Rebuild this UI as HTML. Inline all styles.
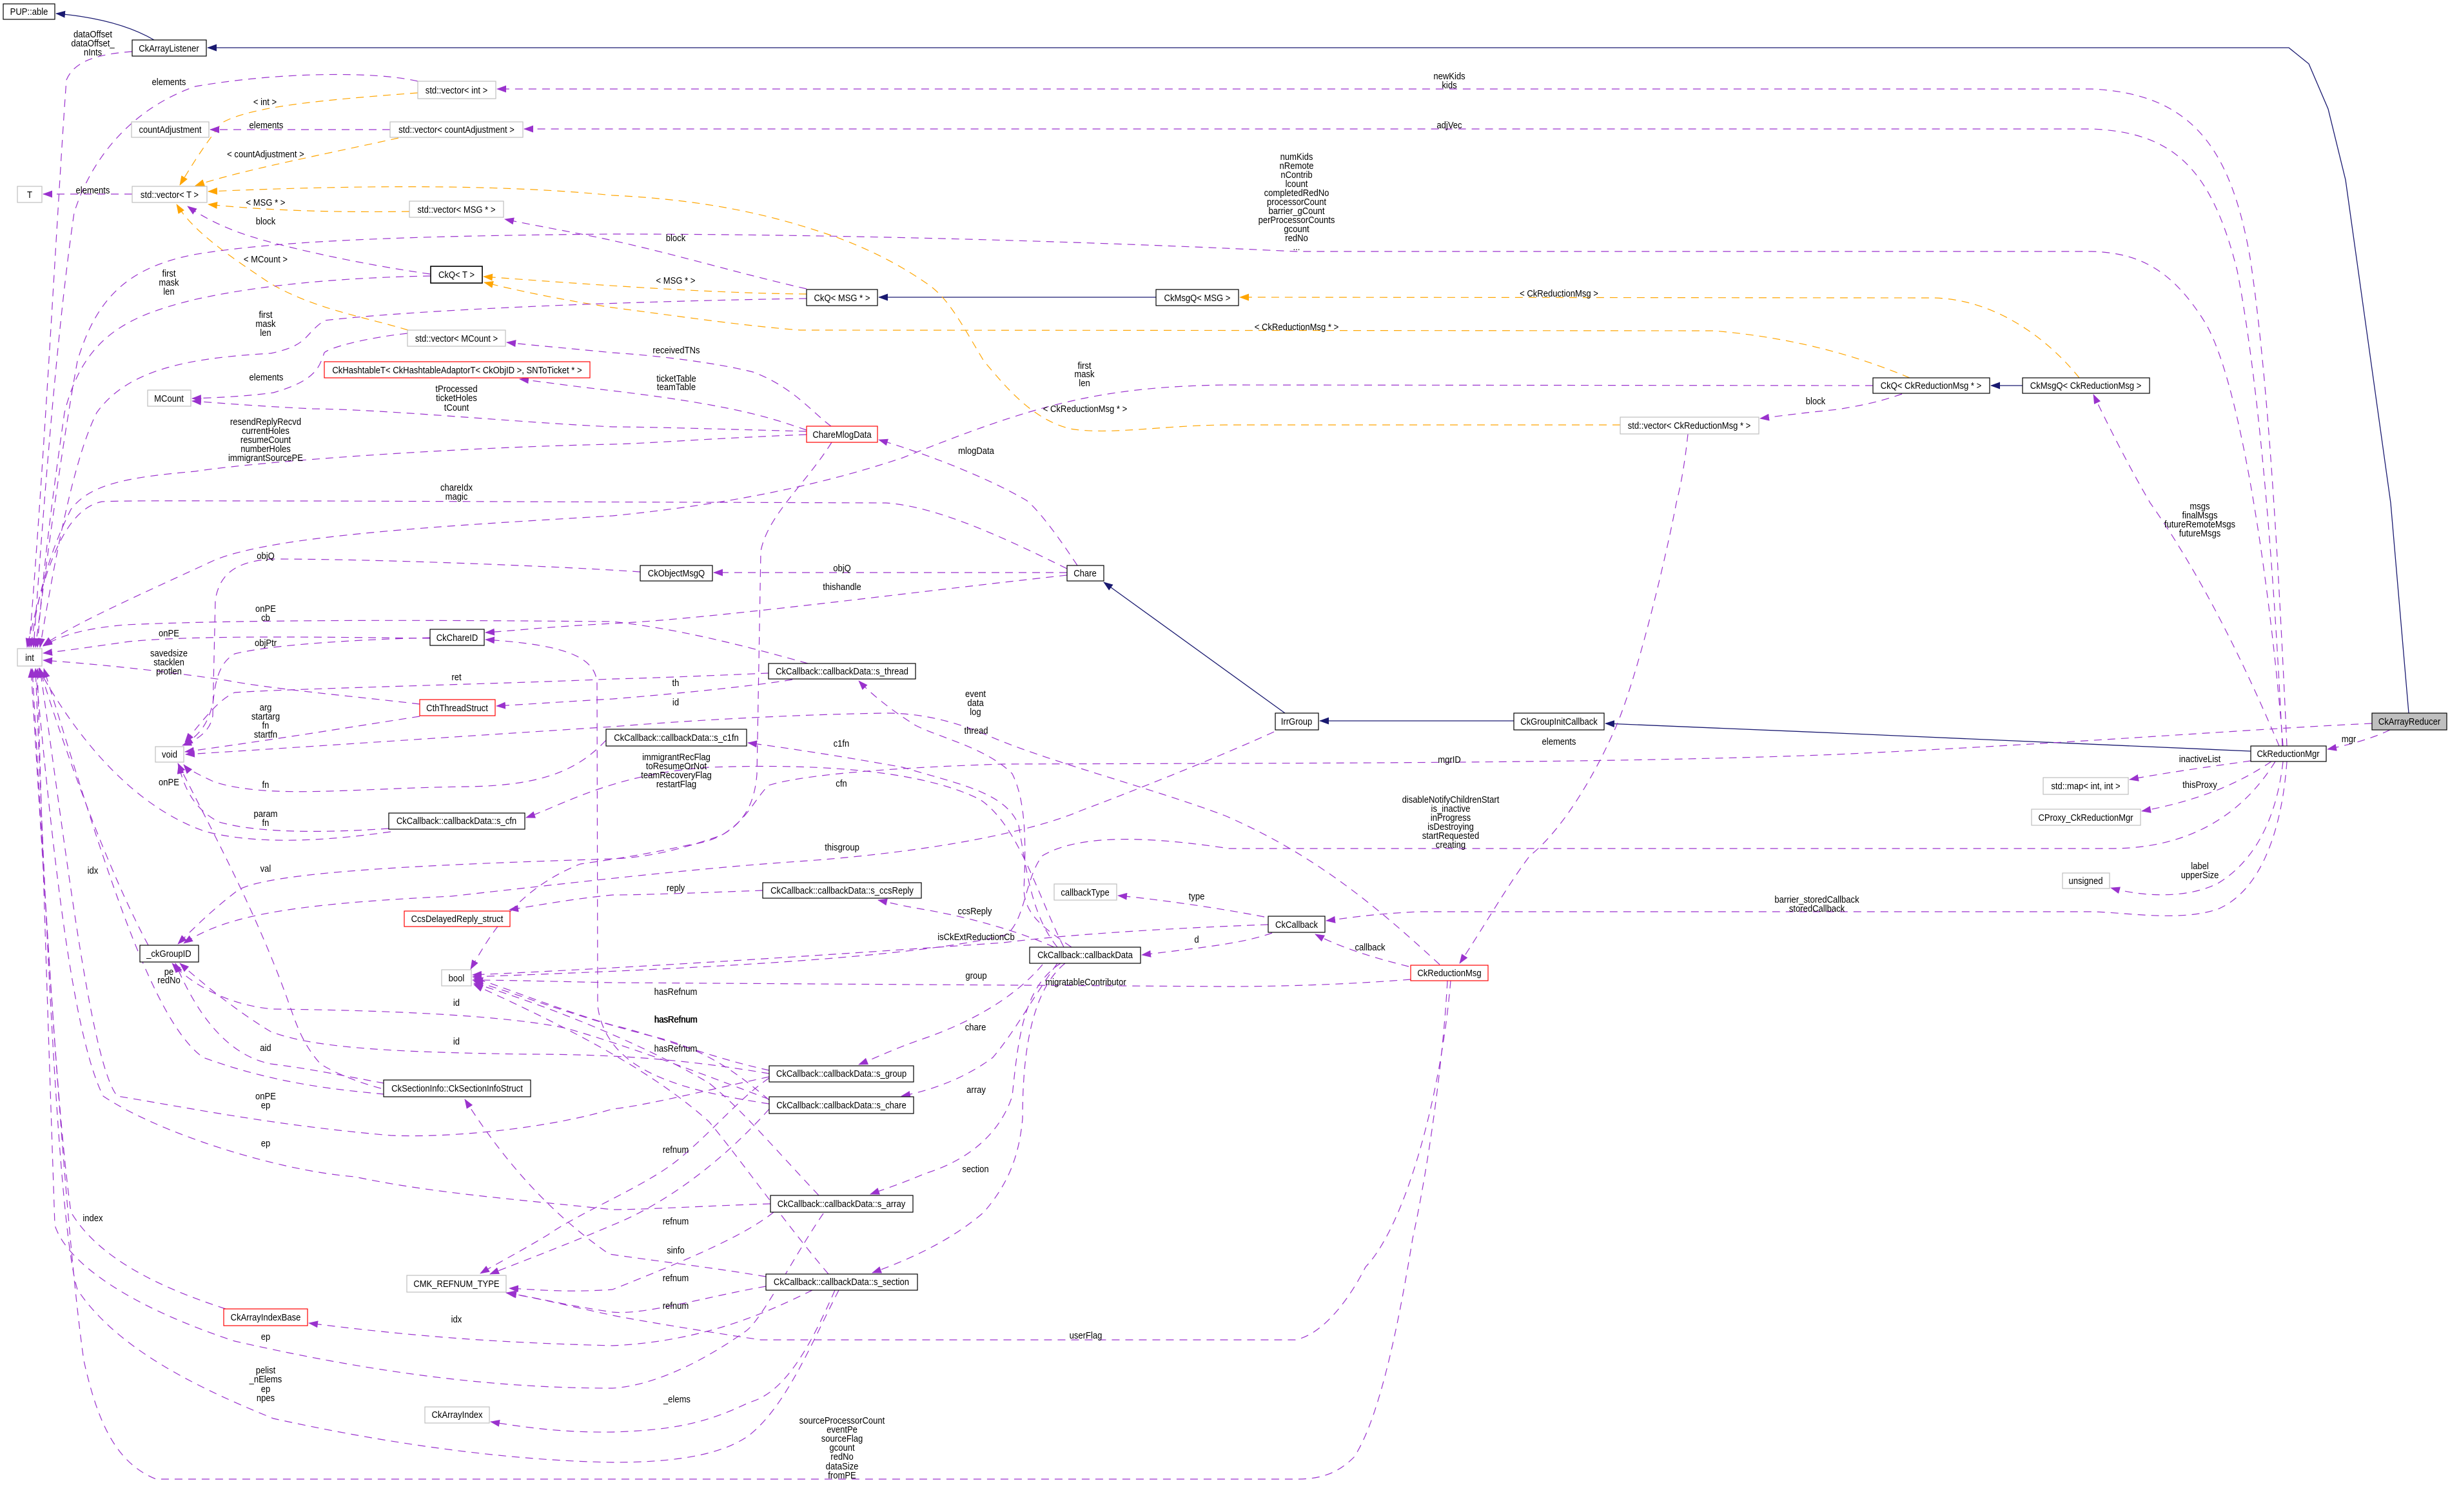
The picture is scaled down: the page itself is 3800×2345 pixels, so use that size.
<!DOCTYPE html>
<html><head><meta charset="utf-8"><style>
html,body{margin:0;padding:0;background:#fff}
svg{display:block}
.t{font-family:"Liberation Sans",Arial,sans-serif;font-size:14.5px;fill:#000;text-anchor:middle;transform-box:fill-box;transform-origin:center;transform:scaleX(.9)}
.p{fill:none;stroke:#9a32cd;stroke-width:1.2;stroke-dasharray:12 9;marker-end:url(#ap)}
.o{fill:none;stroke:#ffa500;stroke-width:1.2;stroke-dasharray:12 9;marker-end:url(#ao)}
.n{fill:none;stroke:#191970;stroke-width:1.3;marker-end:url(#an)}
.bk{fill:#fff;stroke:#000;stroke-width:1.2}
.gr{fill:#fff;stroke:#bfbfbf;stroke-width:1.2}
.rd{fill:#fff;stroke:#ff0000;stroke-width:1.2}
</style></head><body>
<svg width="3800" height="2345" viewBox="0 0 3800 2345" xmlns="http://www.w3.org/2000/svg">
<defs>
<marker id="ap" markerUnits="userSpaceOnUse" markerWidth="15" markerHeight="11" viewBox="0 0 15 11" refX="14" refY="5.5" orient="auto"><path d="M0,0 L15,5.5 L0,11 z" fill="#9a32cd"/></marker>
<marker id="ao" markerUnits="userSpaceOnUse" markerWidth="15" markerHeight="11" viewBox="0 0 15 11" refX="14" refY="5.5" orient="auto"><path d="M0,0 L15,5.5 L0,11 z" fill="#ffa500"/></marker>
<marker id="an" markerUnits="userSpaceOnUse" markerWidth="15" markerHeight="11" viewBox="0 0 15 11" refX="14" refY="5.5" orient="auto"><path d="M0,0 L15,5.5 L0,11 z" fill="#191970"/></marker>
</defs>
<rect width="3800" height="2345" fill="#fff"/>

<!-- inheritance -->
<path class="n" d="M239,62 C215,48 170,28 87,21"/>
<path class="n" d="M3736,1106 L3708,780 L3638,279 L3611,169 L3581,99 L3550,74 L322,74"/>
<path class="n" d="M3491,1165 L2850,1137 L2490,1122"/>
<path class="n" d="M2348,1118 L2047,1118"/>
<path class="n" d="M1993,1106 L1712,903"/>
<path class="n" d="M1793,461 L1363,461"/>
<path class="n" d="M3137,598 L3088,598"/>

<!-- template (orange) -->
<path class="o" d="M648,144 C500,155 390,165 345,190 C320,220 295,260 279,287"/>
<path class="o" d="M618,214 C500,240 370,265 303,288"/>
<path class="o" d="M635,328 C500,330 400,325 323,317"/>
<path class="o" d="M633,512 C560,490 490,480 420,440 C360,400 300,360 274,317"/>
<path class="o" d="M1251,456 C1100,455 900,440 750,429"/>
<path class="o" d="M2962,586 C2900,560 2800,525 2658,513 L1241,512 C1150,505 1050,490 950,477 C870,465 800,450 751,438"/>
<path class="o" d="M3225,586 C3180,530 3100,465 3000,462 L1923,461"/>
<path class="o" d="M2513,659 L1900,659 C1800,660 1720,675 1660,665 C1600,650 1560,600 1526,560 C1490,500 1470,460 1435,438 C1380,400 1320,375 1280,362 C1200,335 1100,310 950,303 C800,288 600,285 323,297"/>

<!-- members (purple) -->
<path class="p" d="M205,80 C150,84 115,95 103,124 C90,300 70,700 45,1004"/>
<path class="p" d="M648,126 C580,110 430,112 303,134 C200,170 140,250 115,330 C90,500 70,750 52,1004"/>
<path class="p" d="M605,201 L326,201"/>
<path class="p" d="M205,301 L67,301"/>
<path class="p" d="M667,425 C560,410 420,380 364,358 C330,345 305,330 291,320"/>
<path class="p" d="M1251,448 C1150,425 1050,395 950,373 C900,362 830,350 783,340"/>
<path class="p" d="M668,428 C560,430 420,438 300,465 C200,490 130,520 100,640 C80,780 65,900 58,1004"/>
<path class="p" d="M1251,463 C1100,465 700,475 503,497 C470,520 480,535 420,548 C300,555 200,570 150,640 C110,720 80,900 62,1004"/>
<path class="p" d="M2905,598 L1900,597 C1700,600 1600,630 1400,710 C1250,760 1100,785 950,800 C700,815 420,830 330,870 C200,930 110,970 67,1001"/>
<path class="p" d="M1251,674 C1100,680 1000,688 950,689 C700,694 400,716 303,731 C200,740 140,750 110,790 C90,830 60,900 48,1004"/>
<path class="p" d="M1655,882 C1550,830 1450,785 1374,780 L500,777 C300,777 200,776 158,778 C100,790 70,880 42,1004"/>
<path class="p" d="M3541,1157 C3525,950 3480,600 3420,500 C3370,420 3320,392 3244,390 L2009,390 C1700,375 1300,363 950,363 C600,366 420,375 300,395 C200,415 150,460 120,560 C95,700 75,850 55,1004"/>
<path class="p" d="M3547,1157 C3535,900 3520,600 3490,400 C3460,230 3400,145 3244,138 L771,138"/>
<path class="p" d="M3540,1157 C3528,900 3505,600 3470,420 C3430,260 3370,205 3244,200 L813,200"/>
<path class="p" d="M3535,1157 C3490,1050 3420,900 3335,780 C3300,720 3270,660 3247,612"/>
<path class="p" d="M3707,1132 C3680,1145 3645,1155 3610,1162"/>
<path class="p" d="M3491,1180 C3420,1190 3350,1200 3303,1209"/>
<path class="p" d="M3523,1181 C3480,1210 3420,1240 3322,1258"/>
<path class="p" d="M3541,1181 C3530,1280 3490,1340 3440,1370 C3390,1395 3320,1390 3274,1377"/>
<path class="p" d="M3547,1181 C3540,1280 3510,1380 3440,1410 C3380,1430 3300,1415 3244,1414 L2200,1414 C2120,1418 2090,1424 2057,1428"/>
<path class="p" d="M3529,1181 C3480,1260 3400,1316 3274,1316 L1906,1316 C1800,1300 1680,1290 1617,1327 C1590,1360 1590,1430 1560,1450 C1400,1490 1000,1505 733,1515"/>
<path class="p" d="M3679,1122 C3500,1130 3214,1153 2850,1170 C2600,1180 2264,1183 1900,1184 L1556,1185 C1400,1190 1250,1200 1192,1218 C1170,1240 1160,1270 1120,1295 C1050,1320 1000,1330 950,1332 C700,1340 424,1350 370,1380 C330,1410 300,1440 276,1464"/>
<path class="p" d="M1976,1135 C1900,1170 1750,1230 1677,1257 C1600,1290 1450,1320 1253,1335 C1100,1345 950,1362 700,1390 C450,1402 350,1420 285,1463"/>
<path class="p" d="M2618,673 C2612,730 2605,760 2600,780 C2585,860 2540,1050 2506,1128 C2470,1210 2420,1290 2373,1327 C2340,1370 2300,1440 2264,1494"/>
<path class="p" d="M2950,611 C2910,625 2880,630 2850,635 C2800,640 2760,645 2730,649"/>
<path class="p" d="M1671,877 C1640,830 1610,790 1592,776 C1530,740 1440,705 1363,682"/>
<path class="p" d="M1655,888 L1107,888"/>
<path class="p" d="M1655,892 C1400,920 1100,960 950,967 C850,972 800,978 753,981"/>
<path class="p" d="M1289,661 C1260,640 1230,600 1168,577 C1100,560 1000,550 950,547 C880,540 820,535 786,531"/>
<path class="p" d="M1251,667 C1200,650 1150,630 950,606 C880,598 840,592 806,588"/>
<path class="p" d="M1251,669 C1100,665 1000,662 950,662 C800,655 600,635 485,634 C400,630 340,625 298,622"/>
<path class="p" d="M632,517 C560,525 510,540 503,547 C495,570 490,590 424,609 C380,615 330,617 298,618"/>
<path class="p" d="M667,990 C500,988 300,985 200,995 C130,1005 95,1010 67,1013"/>
<path class="p" d="M1253,1029 C1150,1000 1050,975 950,964 C700,962 400,960 194,969 C130,975 95,985 67,1002"/>
<path class="p" d="M651,1092 C550,1080 424,1069 350,1055 C250,1040 150,1030 67,1024"/>
<path class="p" d="M1192,1044 C1100,1048 1000,1052 950,1053 C800,1060 450,1068 364,1074 C340,1085 320,1110 287,1151"/>
<path class="p" d="M1229,1054 C1150,1067 1000,1080 950,1084 C880,1088 820,1092 770,1095"/>
<path class="p" d="M993,887 C900,880 600,867 424,867 C360,870 340,895 334,930 L330,1110 C326,1135 305,1148 283,1156"/>
<path class="p" d="M667,989 C550,992 420,1000 364,1014 C345,1025 335,1045 331,1085 C325,1120 310,1140 285,1155"/>
<path class="p" d="M651,1111 C560,1125 440,1145 287,1166"/>
<path class="p" d="M2233,1496 C2150,1420 2050,1330 1900,1265 C1780,1220 1620,1180 1526,1138 C1470,1115 1420,1106 1374,1106 C1250,1108 1100,1115 950,1127 C700,1143 420,1162 288,1170"/>
<path class="p" d="M940,1148 C900,1190 850,1218 727,1220 C550,1222 420,1240 333,1213 C305,1200 290,1192 285,1186"/>
<path class="p" d="M603,1285 C500,1292 400,1292 340,1275 C300,1255 285,1220 277,1186"/>
<path class="p" d="M606,1290 C500,1305 400,1310 320,1290 C200,1250 110,1130 60,1037"/>
<path class="p" d="M1650,1469 C1610,1390 1580,1280 1520,1240 C1440,1200 1300,1183 1100,1190 C950,1200 870,1250 816,1268"/>
<path class="p" d="M1640,1469 C1600,1420 1592,1350 1580,1280 C1560,1230 1495,1218 1400,1190 C1300,1172 1220,1160 1160,1152"/>
<path class="p" d="M1662,1469 C1620,1440 1590,1420 1588,1380 C1592,1300 1590,1240 1570,1200 C1530,1160 1460,1145 1420,1125 C1380,1100 1350,1075 1332,1056"/>
<path class="p" d="M1635,1469 C1570,1440 1490,1420 1430,1410 C1400,1405 1380,1400 1362,1396"/>
<path class="p" d="M1183,1381 C1100,1384 1000,1388 950,1388 C880,1395 830,1405 790,1411"/>
<path class="p" d="M1961,1422 C1900,1410 1800,1395 1734,1389"/>
<path class="p" d="M1973,1447 C1930,1462 1880,1468 1771,1481"/>
<path class="p" d="M1967,1434 C1800,1440 1650,1450 1556,1462 C1300,1480 1000,1500 733,1512"/>
<path class="p" d="M2185,1499 C2150,1490 2090,1475 2040,1449"/>
<path class="p" d="M2188,1519 C2100,1526 2000,1530 1900,1530 L950,1524 C850,1522 780,1520 733,1520"/>
<path class="p" d="M1617,1496 C1580,1540 1520,1580 1435,1610 C1390,1625 1360,1640 1332,1651"/>
<path class="p" d="M1640,1494 C1600,1550 1574,1600 1540,1640 C1500,1670 1450,1690 1398,1700"/>
<path class="p" d="M1645,1494 C1590,1530 1580,1600 1570,1700 C1550,1760 1500,1800 1435,1820 C1400,1835 1370,1845 1350,1852"/>
<path class="p" d="M1652,1494 C1595,1540 1586,1650 1586,1735 C1580,1800 1560,1840 1526,1880 C1480,1920 1420,1950 1353,1974"/>
<path class="p" d="M1290,686 C1250,750 1190,800 1180,855 L1174,1200 C1170,1260 1140,1300 1071,1310 C1000,1325 970,1330 900,1340 C800,1380 760,1450 730,1503"/>
<path class="p" d="M1193,1712 C1050,1690 940,1660 927,1560 L926,1060 C924,1020 880,1000 753,992"/>
<path class="p" d="M1193,1665 C1100,1650 1000,1635 818,1635 C606,1632 485,1625 420,1600 C370,1570 320,1530 279,1494"/>
<path class="p" d="M1193,1705 C1050,1650 950,1615 879,1595 C788,1575 606,1567 424,1565 C360,1560 300,1530 267,1494"/>
<path class="p" d="M596,1680 C540,1670 485,1658 420,1650 C345,1635 300,1560 272,1494"/>
<path class="p" d="M591,1688 C560,1680 520,1665 497,1650 C470,1620 460,1590 448,1556 C400,1420 330,1290 276,1184"/>
<path class="p" d="M596,1697 C520,1690 424,1680 315,1640 C230,1580 150,1300 68,1037"/>
<path class="p" d="M1188,1980 C1100,1965 1011,1955 945,1945 C880,1900 800,1830 721,1705"/>
<path class="p" d="M1193,1670 C1100,1690 1000,1715 950,1720 C850,1750 700,1765 606,1761 C424,1745 303,1720 182,1700 C140,1650 100,1300 62,1037"/>
<path class="p" d="M1195,1867 C1100,1870 1000,1876 950,1876 C800,1860 667,1850 550,1825 C424,1815 242,1755 160,1700 C110,1600 80,1300 55,1037"/>
<path class="p" d="M350,2030 C242,1995 152,1950 110,1880 C85,1700 65,1300 50,1037"/>
<path class="p" d="M1260,2001 C1200,2030 1100,2080 950,2087 C800,2083 667,2076 479,2052"/>
<path class="p" d="M1277,1882 C1230,1950 1180,2050 1156,2065 C1071,2125 1000,2150 950,2153 C788,2153 606,2135 364,2080 C182,2020 100,1950 85,1900 C75,1600 65,1300 58,1037"/>
<path class="p" d="M1301,2001 C1260,2080 1220,2180 1162,2226 C1120,2256 1050,2268 950,2268 C788,2265 606,2240 424,2200 C300,2150 180,2090 120,2000 C90,1900 70,1400 55,1037"/>
<path class="p" d="M1295,2001 C1260,2080 1220,2160 1162,2175 C1100,2205 1050,2218 950,2221 C880,2222 820,2215 761,2205"/>
<path class="p" d="M2245,1521 C2238,1650 2215,1811 2191,1921 C2170,2050 2140,2200 2100,2260 C2070,2290 2040,2294 2009,2294 L242,2294 C182,2270 152,2210 130,2110 C100,1900 70,1400 48,1037"/>
<path class="p" d="M2250,1521 C2235,1700 2180,1900 2118,1965 C2090,2020 2050,2070 2009,2078 L1180,2078 C1132,2071 1000,2050 950,2040 C880,2025 830,2012 787,2006"/>
<path class="p" d="M1193,1672 C1150,1700 1100,1760 1050,1800 C1000,1840 900,1880 850,1915 C800,1945 770,1960 745,1975"/>
<path class="p" d="M1193,1720 C1140,1780 1050,1860 950,1900 C880,1930 800,1960 760,1976"/>
<path class="p" d="M1200,1880 C1150,1920 1050,1960 950,2000 C880,2005 830,2000 790,1998"/>
<path class="p" d="M1188,1995 C1100,2010 1000,2040 950,2035 C880,2025 830,2012 785,2005"/>
<path class="p" d="M1193,1660 C1100,1640 1000,1600 950,1590 C850,1560 780,1530 735,1517"/>
<path class="p" d="M1193,1706 C1150,1670 1100,1630 1023,1610 C900,1580 800,1540 735,1522"/>
<path class="p" d="M1270,1854 C1200,1780 1150,1720 1100,1680 C1000,1620 850,1560 735,1525"/>
<path class="p" d="M1285,1976 C1220,1900 1150,1800 1100,1740 C1000,1650 850,1580 735,1527"/>
<path class="p" d="M230,1466 C182,1377 121,1228 61,1036"/>

<!-- boxes -->
<rect class="bk" x="5" y="6" width="80" height="24"/>
<rect class="bk" x="205" y="62" width="115" height="25"/>
<rect class="gr" x="648" y="126" width="121" height="27"/>
<rect class="gr" x="204" y="189" width="120" height="24"/>
<rect class="gr" x="605" y="189" width="206" height="24"/>
<rect class="gr" x="27" y="289" width="38" height="25"/>
<rect class="gr" x="205" y="289" width="116" height="25"/>
<rect class="gr" x="635" y="312" width="146" height="25"/>
<rect class="bk" x="668" y="413" width="80" height="26" style="stroke-width:1.6"/>
<rect class="bk" x="1251" y="449" width="110" height="25"/>
<rect class="bk" x="1793" y="449" width="128" height="25"/>
<rect class="gr" x="632" y="512" width="152" height="25"/>
<rect class="rd" x="503" y="561" width="412" height="25"/>
<rect class="gr" x="229" y="605" width="67" height="25"/>
<rect class="rd" x="1251" y="661" width="110" height="25"/>
<rect class="bk" x="2905" y="586" width="181" height="24"/>
<rect class="bk" x="3137" y="586" width="197" height="24"/>
<rect class="gr" x="2513" y="647" width="215" height="26"/>
<rect class="bk" x="993" y="877" width="112" height="24"/>
<rect class="bk" x="1655" y="877" width="57" height="24"/>
<rect class="gr" x="27" y="1006" width="38" height="27"/>
<rect class="bk" x="667" y="976" width="84" height="25"/>
<rect class="bk" x="1192" y="1029" width="228" height="24"/>
<rect class="rd" x="651" y="1085" width="117" height="25"/>
<rect class="bk" x="940" y="1131" width="218" height="26"/>
<rect class="gr" x="241" y="1158" width="44" height="24"/>
<rect class="bk" x="1978" y="1106" width="67" height="26"/>
<rect class="bk" x="2348" y="1106" width="140" height="26"/>
<rect x="3679" y="1106" width="116" height="26" fill="#bfbfbf" stroke="#000" stroke-width="1.2"/>
<rect class="bk" x="3491" y="1157" width="117" height="24"/>
<rect class="gr" x="3169" y="1206" width="132" height="26"/>
<rect class="gr" x="3151" y="1255" width="169" height="25"/>
<rect class="bk" x="603" y="1261" width="211" height="25"/>
<rect class="gr" x="3199" y="1354" width="73" height="24"/>
<rect class="bk" x="1183" y="1369" width="246" height="24"/>
<rect class="gr" x="1635" y="1371" width="97" height="25"/>
<rect class="rd" x="627" y="1413" width="164" height="24"/>
<rect class="bk" x="1967" y="1421" width="88" height="25"/>
<rect class="bk" x="217" y="1466" width="91" height="26"/>
<rect class="bk" x="1597" y="1469" width="172" height="25"/>
<rect class="rd" x="2188" y="1497" width="120" height="24"/>
<rect class="gr" x="685" y="1504" width="46" height="25"/>
<rect class="bk" x="1193" y="1653" width="224" height="25"/>
<rect class="bk" x="595" y="1675" width="228" height="26"/>
<rect class="bk" x="1193" y="1701" width="224" height="26"/>
<rect class="bk" x="1195" y="1854" width="221" height="26"/>
<rect class="gr" x="631" y="1978" width="154" height="26"/>
<rect class="bk" x="1188" y="1976" width="235" height="25"/>
<rect class="rd" x="347" y="2030" width="130" height="26"/>
<rect class="gr" x="659" y="2182" width="100" height="25"/>

<!-- box labels -->
<text class="t" x="45" y="23">PUP::able</text>
<text class="t" x="262" y="80">CkArrayListener</text>
<text class="t" x="708" y="145">std::vector&lt; int &gt;</text>
<text class="t" x="264" y="206">countAdjustment</text>
<text class="t" x="708" y="206">std::vector&lt; countAdjustment &gt;</text>
<text class="t" x="46" y="307">T</text>
<text class="t" x="263" y="307">std::vector&lt; T &gt;</text>
<text class="t" x="708" y="330">std::vector&lt; MSG * &gt;</text>
<text class="t" x="708" y="431">CkQ&lt; T &gt;</text>
<text class="t" x="1306" y="467">CkQ&lt; MSG * &gt;</text>
<text class="t" x="1857" y="467">CkMsgQ&lt; MSG &gt;</text>
<text class="t" x="708" y="530">std::vector&lt; MCount &gt;</text>
<text class="t" x="709" y="579">CkHashtableT&lt; CkHashtableAdaptorT&lt; CkObjID &gt;, SNToTicket * &gt;</text>
<text class="t" x="262" y="623">MCount</text>
<text class="t" x="1306" y="679">ChareMlogData</text>
<text class="t" x="2995" y="603">CkQ&lt; CkReductionMsg * &gt;</text>
<text class="t" x="3235" y="603">CkMsgQ&lt; CkReductionMsg &gt;</text>
<text class="t" x="2620" y="665">std::vector&lt; CkReductionMsg * &gt;</text>
<text class="t" x="1049" y="894">CkObjectMsgQ</text>
<text class="t" x="1683" y="894">Chare</text>
<text class="t" x="46" y="1025">int</text>
<text class="t" x="709" y="994">CkChareID</text>
<text class="t" x="1306" y="1046">CkCallback::callbackData::s_thread</text>
<text class="t" x="709" y="1103">CthThreadStruct</text>
<text class="t" x="1049" y="1149">CkCallback::callbackData::s_c1fn</text>
<text class="t" x="263" y="1175">void</text>
<text class="t" x="2011" y="1124">IrrGroup</text>
<text class="t" x="2418" y="1124">CkGroupInitCallback</text>
<text class="t" x="3737" y="1124">CkArrayReducer</text>
<text class="t" x="3549" y="1174">CkReductionMgr</text>
<text class="t" x="3235" y="1224">std::map&lt; int, int &gt;</text>
<text class="t" x="3235" y="1273">CProxy_CkReductionMgr</text>
<text class="t" x="708" y="1278">CkCallback::callbackData::s_cfn</text>
<text class="t" x="3235" y="1371">unsigned</text>
<text class="t" x="1306" y="1386">CkCallback::callbackData::s_ccsReply</text>
<text class="t" x="1683" y="1389">callbackType</text>
<text class="t" x="709" y="1430">CcsDelayedReply_struct</text>
<text class="t" x="2011" y="1439">CkCallback</text>
<text class="t" x="262" y="1484">_ckGroupID</text>
<text class="t" x="1683" y="1486">CkCallback::callbackData</text>
<text class="t" x="2248" y="1514">CkReductionMsg</text>
<text class="t" x="708" y="1522">bool</text>
<text class="t" x="1305" y="1670">CkCallback::callbackData::s_group</text>
<text class="t" x="709" y="1693">CkSectionInfo::CkSectionInfoStruct</text>
<text class="t" x="1305" y="1719">CkCallback::callbackData::s_chare</text>
<text class="t" x="1305" y="1872">CkCallback::callbackData::s_array</text>
<text class="t" x="708" y="1996">CMK_REFNUM_TYPE</text>
<text class="t" x="1305" y="1993">CkCallback::callbackData::s_section</text>
<text class="t" x="412" y="2048">CkArrayIndexBase</text>
<text class="t" x="709" y="2199">CkArrayIndex</text>

<!-- edge labels -->
<text class="t" x="144" y="58">dataOffset</text>
<text class="t" x="144" y="72">dataOffset_</text>
<text class="t" x="144" y="86">nInts</text>
<text class="t" x="262" y="132">elements</text>
<text class="t" x="411" y="163">&lt; int &gt;</text>
<text class="t" x="2248" y="123">newKids</text>
<text class="t" x="2248" y="137">kids</text>
<text class="t" x="413" y="199">elements</text>
<text class="t" x="2248" y="199">adjVec</text>
<text class="t" x="412" y="244">&lt; countAdjustment &gt;</text>
<text class="t" x="2011" y="248">numKids</text>
<text class="t" x="2011" y="262">nRemote</text>
<text class="t" x="2011" y="276">nContrib</text>
<text class="t" x="2011" y="290">lcount</text>
<text class="t" x="2011" y="304">completedRedNo</text>
<text class="t" x="2011" y="318">processorCount</text>
<text class="t" x="2011" y="332">barrier_gCount</text>
<text class="t" x="2011" y="346">perProcessorCounts</text>
<text class="t" x="2011" y="360">gcount</text>
<text class="t" x="2011" y="374">redNo</text>
<text class="t" x="2011" y="388">...</text>
<text class="t" x="144" y="300">elements</text>
<text class="t" x="412" y="319">&lt; MSG * &gt;</text>
<text class="t" x="412" y="348">block</text>
<text class="t" x="1048" y="374">block</text>
<text class="t" x="412" y="407">&lt; MCount &gt;</text>
<text class="t" x="262" y="429">first</text>
<text class="t" x="262" y="443">mask</text>
<text class="t" x="262" y="457">len</text>
<text class="t" x="1048" y="440">&lt; MSG * &gt;</text>
<text class="t" x="2418" y="460">&lt; CkReductionMsg &gt;</text>
<text class="t" x="412" y="493">first</text>
<text class="t" x="412" y="507">mask</text>
<text class="t" x="412" y="521">len</text>
<text class="t" x="2011" y="512">&lt; CkReductionMsg * &gt;</text>
<text class="t" x="1049" y="548">receivedTNs</text>
<text class="t" x="1682" y="572">first</text>
<text class="t" x="1682" y="585">mask</text>
<text class="t" x="1682" y="599">len</text>
<text class="t" x="413" y="590">elements</text>
<text class="t" x="1049" y="592">ticketTable</text>
<text class="t" x="1049" y="605">teamTable</text>
<text class="t" x="708" y="608">tProcessed</text>
<text class="t" x="708" y="622">ticketHoles</text>
<text class="t" x="708" y="637">tCount</text>
<text class="t" x="2816" y="627">block</text>
<text class="t" x="1683" y="639">&lt; CkReductionMsg * &gt;</text>
<text class="t" x="412" y="659">resendReplyRecvd</text>
<text class="t" x="412" y="673">currentHoles</text>
<text class="t" x="412" y="687">resumeCount</text>
<text class="t" x="412" y="701">numberHoles</text>
<text class="t" x="412" y="715">immigrantSourcePE</text>
<text class="t" x="1514" y="704">mlogData</text>
<text class="t" x="708" y="761">chareIdx</text>
<text class="t" x="708" y="775">magic</text>
<text class="t" x="3412" y="790">msgs</text>
<text class="t" x="3412" y="804">finalMsgs</text>
<text class="t" x="3412" y="818">futureRemoteMsgs</text>
<text class="t" x="3412" y="832">futureMsgs</text>
<text class="t" x="412" y="867">objQ</text>
<text class="t" x="1306" y="886">objQ</text>
<text class="t" x="1306" y="915">thishandle</text>
<text class="t" x="412" y="949">onPE</text>
<text class="t" x="412" y="963">cb</text>
<text class="t" x="262" y="987">onPE</text>
<text class="t" x="412" y="1002">objPtr</text>
<text class="t" x="262" y="1018">savedsize</text>
<text class="t" x="262" y="1032">stacklen</text>
<text class="t" x="262" y="1046">protlen</text>
<text class="t" x="708" y="1055">ret</text>
<text class="t" x="1048" y="1064">th</text>
<text class="t" x="1513" y="1081">event</text>
<text class="t" x="1513" y="1095">data</text>
<text class="t" x="1513" y="1109">log</text>
<text class="t" x="1048" y="1094">id</text>
<text class="t" x="412" y="1102">arg</text>
<text class="t" x="412" y="1116">startarg</text>
<text class="t" x="412" y="1130">fn</text>
<text class="t" x="412" y="1144">startfn</text>
<text class="t" x="1514" y="1138">thread</text>
<text class="t" x="3643" y="1151">mgr</text>
<text class="t" x="2418" y="1155">elements</text>
<text class="t" x="1305" y="1158">c1fn</text>
<text class="t" x="1049" y="1179">immigrantRecFlag</text>
<text class="t" x="1049" y="1193">toResumeOrNot</text>
<text class="t" x="1049" y="1207">teamRecoveryFlag</text>
<text class="t" x="1049" y="1221">restartFlag</text>
<text class="t" x="3412" y="1182">inactiveList</text>
<text class="t" x="2248" y="1183">mgrID</text>
<text class="t" x="262" y="1218">onPE</text>
<text class="t" x="412" y="1222">fn</text>
<text class="t" x="1305" y="1220">cfn</text>
<text class="t" x="3412" y="1222">thisProxy</text>
<text class="t" x="2250" y="1245">disableNotifyChildrenStart</text>
<text class="t" x="2250" y="1259">is_inactive</text>
<text class="t" x="2250" y="1273">inProgress</text>
<text class="t" x="2250" y="1287">isDestroying</text>
<text class="t" x="2250" y="1301">startRequested</text>
<text class="t" x="2250" y="1315">creating</text>
<text class="t" x="412" y="1267">param</text>
<text class="t" x="412" y="1281">fn</text>
<text class="t" x="1306" y="1319">thisgroup</text>
<text class="t" x="3412" y="1348">label</text>
<text class="t" x="3412" y="1362">upperSize</text>
<text class="t" x="412" y="1352">val</text>
<text class="t" x="144" y="1355">idx</text>
<text class="t" x="1048" y="1382">reply</text>
<text class="t" x="1856" y="1395">type</text>
<text class="t" x="2818" y="1400">barrier_storedCallback</text>
<text class="t" x="2818" y="1414">storedCallback</text>
<text class="t" x="1512" y="1418">ccsReply</text>
<text class="t" x="1514" y="1458">isCkExtReductionCb</text>
<text class="t" x="1856" y="1462">d</text>
<text class="t" x="2125" y="1474">callback</text>
<text class="t" x="262" y="1512">pe</text>
<text class="t" x="262" y="1525">redNo</text>
<text class="t" x="1514" y="1518">group</text>
<text class="t" x="1684" y="1528">migratableContributor</text>
<text class="t" x="1048" y="1543">hasRefnum</text>
<text class="t" x="708" y="1560">id</text>
<text class="t" x="1048" y="1586">hasRefnum</text>
<text class="t" x="1048.7" y="1586">hasRefnum</text>
<text class="t" x="1513" y="1598">chare</text>
<text class="t" x="708" y="1620">id</text>
<text class="t" x="412" y="1630">aid</text>
<text class="t" x="1048" y="1631">hasRefnum</text>
<text class="t" x="1514" y="1695">array</text>
<text class="t" x="412" y="1705">onPE</text>
<text class="t" x="412" y="1719">ep</text>
<text class="t" x="412" y="1778">ep</text>
<text class="t" x="1048" y="1788">refnum</text>
<text class="t" x="1513" y="1818">section</text>
<text class="t" x="144" y="1894">index</text>
<text class="t" x="1048" y="1899">refnum</text>
<text class="t" x="1048" y="1944">sinfo</text>
<text class="t" x="1048" y="1987">refnum</text>
<text class="t" x="1048" y="2030">refnum</text>
<text class="t" x="708" y="2051">idx</text>
<text class="t" x="1684" y="2076">userFlag</text>
<text class="t" x="412" y="2078">ep</text>
<text class="t" x="412" y="2130">pelist</text>
<text class="t" x="412" y="2144">_nElems</text>
<text class="t" x="412" y="2159">ep</text>
<text class="t" x="412" y="2173">npes</text>
<text class="t" x="1050" y="2175">_elems</text>
<text class="t" x="1306" y="2208">sourceProcessorCount</text>
<text class="t" x="1306" y="2222">eventPe</text>
<text class="t" x="1306" y="2236">sourceFlag</text>
<text class="t" x="1306" y="2250">gcount</text>
<text class="t" x="1306" y="2264">redNo</text>
<text class="t" x="1306" y="2279">dataSize</text>
<text class="t" x="1306" y="2293">fromPE</text>
</svg>
</body></html>
